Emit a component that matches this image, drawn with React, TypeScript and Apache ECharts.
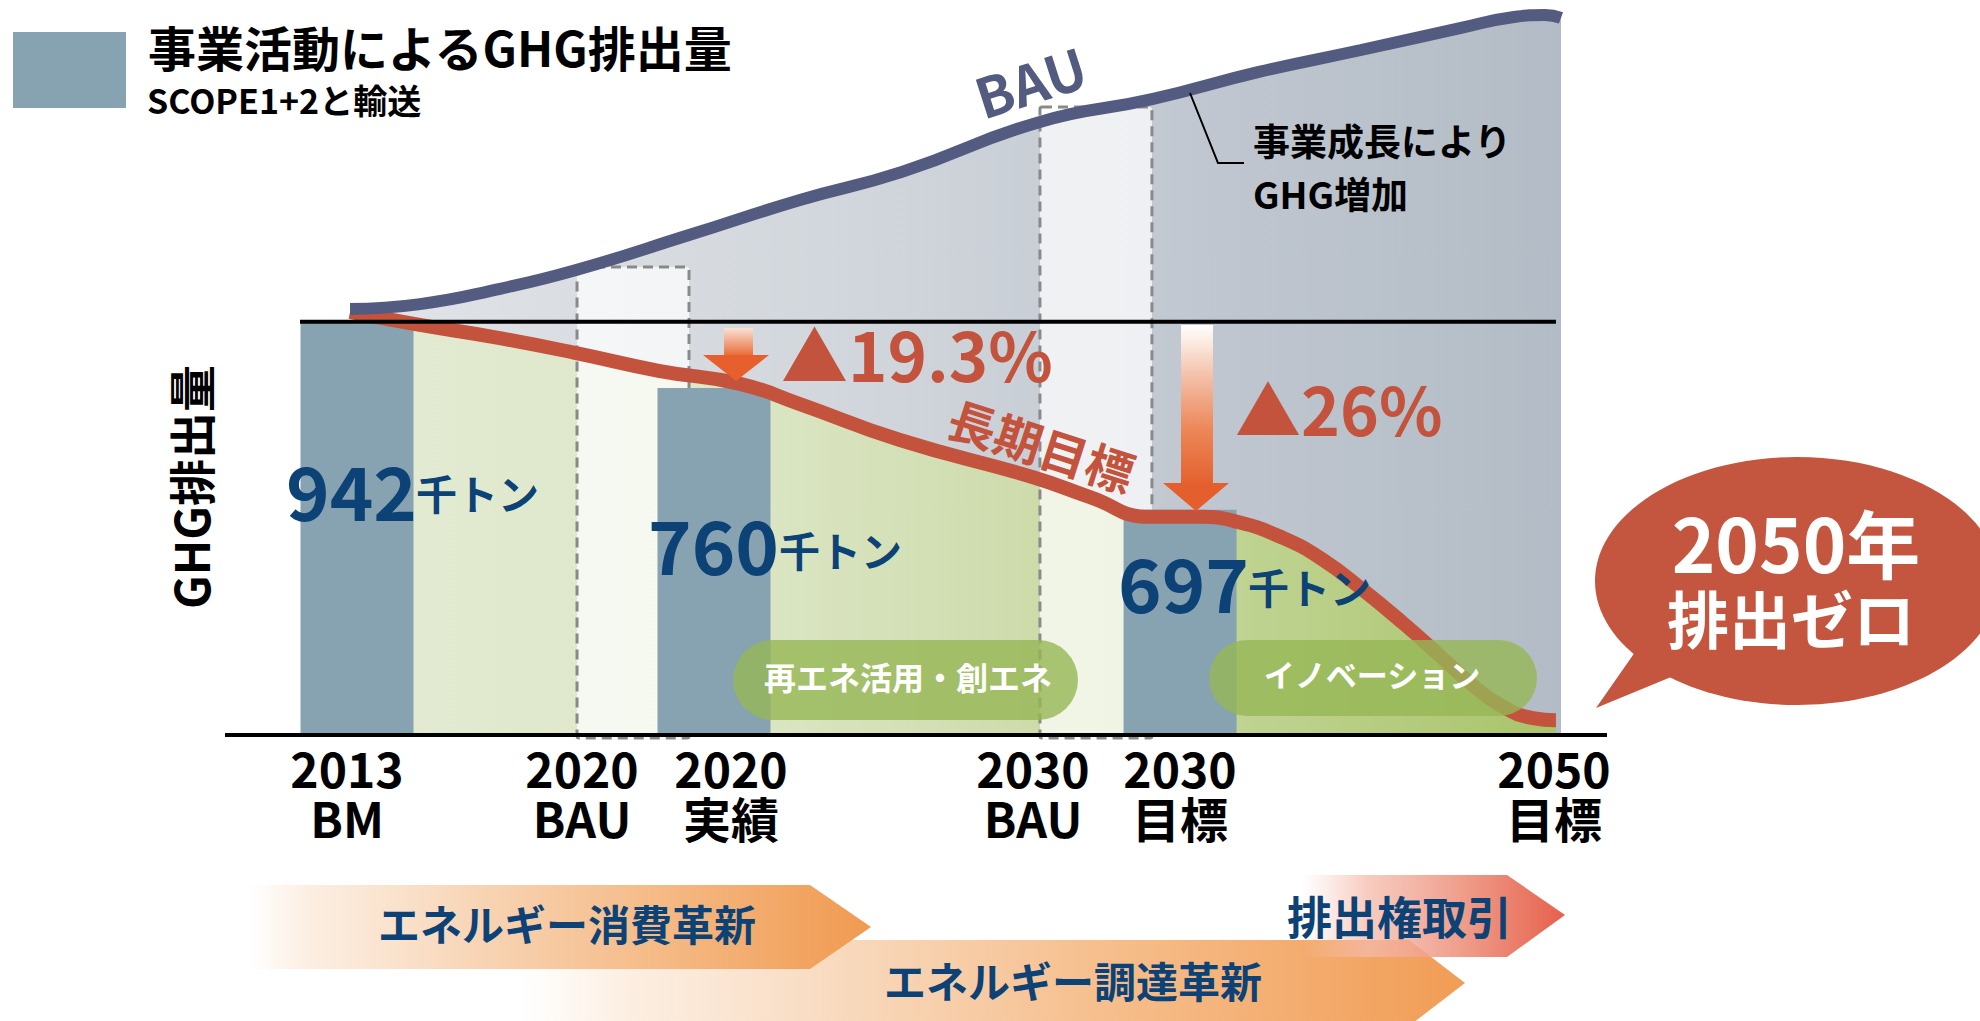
import React, { useEffect, useRef } from "react";
import * as echarts from "echarts";

// ---------------- data ----------------
// timeline position (0..100 across the plot) and emission index (2013 = 100)
const xLabels = ["2013\nBM", "2020\nBAU", "2020\n実績", "2030\nBAU", "2030\n目標", "2050\n目標"];

const bauX = [3.97, 9.52, 15.86, 21.97, 30.85, 39.65, 47.74, 58.68, 67.57, 76.05, 84.14, 91.99, 96.27, 98.73, 100];
const bauY = [103.1, 104.3, 108.0, 112.6, 121.0, 129.5, 136.3, 148.4, 153.9, 160.5, 165.8, 171.1, 173.8, 174.3, 173.6];

const targetX = [3.97, 9.04, 15.38, 21.81, 28.55, 34.89, 39.65, 47.58, 58.13, 62.65, 67.41, 71.37, 74.31, 77.95, 81.13, 84.3, 87.47, 90.17, 92.78, 95.4, 97.78, 99.6];
const targetY = [102.4, 99.5, 96.3, 92.5, 88.1, 85.0, 80.1, 71.4, 62.4, 57.6, 52.8, 52.8, 51.6, 47.7, 42.4, 35.1, 27.1, 19.8, 12.6, 6.8, 4.1, 3.6];

const barX = [4.52, 32.83, 69.79];
const barIdx = [100, 84.0, 54.5];
const barValues = ["942", "760", "697"];
const unitLabel = "千トン";

const bauBoxX = [26.41, 63.12];
const bauBoxIdx = [113.3, 152.0];

const baseLine = [[0, 100], [99.6, 100]];

const reductionLabels = ["▲19.3%", "▲26%"];
const pillLabels = ["再エネ活用・創エネ", "イノベーション"];
const bannerLabels = ["エネルギー消費革新", "エネルギー調達革新", "排出権取引"];

// ---------------- layout ----------------
const FONT = '"Noto Sans CJK JP", "Noto Sans", sans-serif';
const NAVY = "#0c4275";
const RED = "#c4533d";
const BAU_C = "#535b80";
const BAR_C = "#87a3b2";

const xLabelCx = [347, 582, 731, 1033, 1180, 1554];
const numPos = [
  [286, 488, 416, 492],
  [648, 542, 779, 549],
  [1118, 580, 1248, 586],
];

function T(text: string, x: number, y: number, size: number, fill: string, o: any = {}) {
  return {
    type: "text",
    x,
    y,
    z: o.z ?? 50,
    rotation: o.rot ?? 0,
    silent: true,
    style: {
      text,
      fill,
      fontSize: size,
      fontWeight: "bold",
      fontFamily: FONT,
      align: o.align ?? "left",
      verticalAlign: o.va ?? "middle",
      lineHeight: o.lh,
    },
  };
}

function lg(x2: number, y2: number, stops: [number, string][]) {
  return new echarts.graphic.LinearGradient(0, 0, x2, y2, stops.map(([offset, color]) => ({ offset, color })));
}

function buildOption() {
  const bauData = bauX.map((x, i) => [x, bauY[i]]);
  const targetData = targetX.map((x, i) => [x, targetY[i]]);

  const graphics: any[] = [];
  // legend
  graphics.push({ type: "rect", z: 50, shape: { x: 13, y: 32, width: 113, height: 76 }, style: { fill: BAR_C } });
  graphics.push(T("事業活動によるGHG排出量", 148, 46, 48, "#000"));
  graphics.push(T("SCOPE1+2と輸送", 147, 99, 34, "#000"));
  // y label
  graphics.push(T("GHG排出量", 189, 487, 47, "#000", { align: "center", rot: Math.PI / 2 }));
  // axis line
  graphics.push({ type: "line", z: 40, shape: { x1: 225, y1: 735, x2: 1607, y2: 735 }, style: { stroke: "#000", lineWidth: 4 } });
  // x labels
  xLabels.forEach((l, i) => graphics.push(T(l, xLabelCx[i], 792, 48, "#000", { align: "center", lh: 50 })));
  // numbers
  barValues.forEach((v, i) => {
    const p = numPos[i];
    graphics.push(T(v, p[0], p[1], 74, NAVY));
    graphics.push(T(unitLabel, p[2], p[3], 41, NAVY));
  });
  // small arrow (2020)
  graphics.push({ type: "rect", z: 45, shape: { x: 724, y: 328, width: 29, height: 29 }, style: { fill: lg(0, 1, [[0, "#fbe1d4"], [1, "#e8662f"]]) } });
  graphics.push({ type: "polygon", z: 45, shape: { points: [[703, 355], [769, 355], [736, 381]] }, style: { fill: "#e65f2c" } });
  // long arrow (2030)
  graphics.push({ type: "rect", z: 45, shape: { x: 1181, y: 325, width: 32, height: 160 }, style: { fill: lg(0, 1, [[0, "#ffffff"], [0.3, "#f4c4ae"], [0.65, "#ec8758"], [1, "#e4602e"]]) } });
  graphics.push({ type: "polygon", z: 45, shape: { points: [[1163, 483], [1229, 483], [1196, 511]] }, style: { fill: "#e45f2d" } });
  // reductions
  graphics.push(T(reductionLabels[0], 781, 352, 67, RED));
  graphics.push(T(reductionLabels[1], 1235, 407, 66, RED));
  // long-term target label
  graphics.push(T("長期目標", 1042, 444, 48, RED, { align: "center", rot: -0.31 }));
  // BAU label
  graphics.push(T("BAU", 1030, 80, 55, BAU_C, { align: "center", rot: 0.31 }));
  // callout
  graphics.push({ type: "polyline", z: 45, shape: { points: [[1190, 93], [1218, 163], [1244, 163]] }, style: { stroke: "#000", lineWidth: 2, fill: null } });
  graphics.push(T("事業成長により", 1253, 140, 37, "#000"));
  graphics.push(T("GHG増加", 1253, 193, 37, "#000"));
  // pills
  graphics.push({ type: "rect", z: 46, shape: { x: 733, y: 640, width: 345, height: 80, r: 40 }, style: { fill: "rgba(150,182,85,0.8)" } });
  graphics.push({ type: "rect", z: 46, shape: { x: 1209, y: 640, width: 328, height: 76, r: 38 }, style: { fill: "rgba(150,182,85,0.8)" } });
  graphics.push(T(pillLabels[0], 908, 676, 32, "#fff", { align: "center" }));
  graphics.push(T(pillLabels[1], 1372, 673, 31, "#fff", { align: "center" }));
  // bubble
  graphics.push({ type: "ellipse", z: 46, shape: { cx: 1797, cy: 581, rx: 202, ry: 124 }, style: { fill: "#c4553f" } });
  graphics.push({ type: "polygon", z: 46, shape: { points: [[1640, 645], [1596, 708], [1688, 670]] }, style: { fill: "#c4553f" } });
  graphics.push(T("2050年", 1796, 540, 74, "#fff", { align: "center" }));
  graphics.push(T("排出ゼロ", 1791, 617, 62, "#fff", { align: "center" }));
  // banners
  graphics.push({
    type: "polygon", z: 30,
    shape: { points: [[520, 940], [1409, 940], [1465, 983], [1409, 1026], [520, 1026]] },
    style: { fill: lg(1, 0, [[0, "rgba(250,228,208,0)"], [0.12, "rgba(250,226,204,0.6)"], [0.35, "#f8d8bc"], [0.6, "#f6c08f"], [1, "#f19d55"]]) },
  });
  graphics.push({
    type: "polygon", z: 31,
    shape: { points: [[248, 885], [810, 885], [871, 927], [810, 969], [248, 969]] },
    style: { fill: lg(1, 0, [[0, "rgba(250,228,208,0)"], [0.1, "rgba(250,226,204,0.6)"], [0.35, "#f8d6b8"], [0.65, "#f5bb87"], [1, "#f09a50"]]) },
  });
  graphics.push({
    type: "polygon", z: 32,
    shape: { points: [[1302, 875], [1507, 875], [1565, 915], [1507, 957], [1302, 957]] },
    style: { fill: lg(1, 0, [[0, "rgba(246,196,182,0)"], [0.25, "rgba(244,186,170,0.75)"], [0.6, "rgba(238,150,130,0.92)"], [1, "#e5604a"]]) },
  });
  graphics.push(T(bannerLabels[0], 378, 922, 42, NAVY, { z: 35 }));
  graphics.push(T(bannerLabels[1], 884, 979, 42, NAVY, { z: 35 }));
  graphics.push(T(bannerLabels[2], 1287, 915, 45, NAVY, { z: 35 }));

  const smooth = 0.5;
  return {
    animation: false,
    tooltip: { show: false },
    grid: { left: 300, top: 12, width: 1261, height: 723, outerBoundsMode: "none" },
    xAxis: { type: "value", min: 0, max: 100, show: false },
    yAxis: { type: "value", min: 0, max: 175, show: false },
    series: [
      {
        type: "line", data: bauData, smooth, symbol: "none", z: 1, silent: true, clip: false,
        lineStyle: { width: 0 },
        areaStyle: { opacity: 1, color: lg(1, 0, [[0, "#e1e4e8"], [0.45, "#d0d5db"], [0.72, "#bfc6cf"], [1, "#b3bcc6"]]) },
      },
      {
        type: "line", data: targetData, smooth, symbol: "none", z: 2, silent: true, clip: false,
        lineStyle: { width: 0 },
        areaStyle: { opacity: 1, color: lg(1, 0, [[0, "#e3ebd3"], [0.3, "#dde7c8"], [0.55, "#cfdcad"], [0.78, "#bcd18c"], [1, "#a9c46a"]]) },
      },
      {
        type: "custom", z: 3, silent: true,
        data: bauBoxX.map((x, i) => [x, bauBoxIdx[i]]),
        renderItem: (_p: any, api: any) => {
          const top = api.coord([api.value(0), api.value(1)]);
          const bot = api.coord([api.value(0), 0]);
          const w = 112;
          return {
            type: "rect",
            shape: { x: top[0] - w / 2, y: top[1], width: w, height: bot[1] - top[1] + 3, r: 2 },
            style: { fill: "rgba(255,255,255,0.72)", stroke: "#8a8a8a", lineWidth: 3, lineDash: [10, 6] },
          };
        },
      },
      {
        type: "bar", z: 4, silent: true, barWidth: 113,
        data: barX.map((x, i) => [x, barIdx[i]]),
        itemStyle: { color: BAR_C },
      },
      {
        type: "line", data: targetData, smooth, symbol: "none", z: 5, silent: true, clip: false,
        lineStyle: { width: 14, color: RED, cap: "butt" },
      },
      {
        type: "line", data: bauData, smooth, symbol: "none", z: 5, silent: true, clip: false,
        lineStyle: { width: 12, color: BAU_C, cap: "butt" },
      },
      {
        type: "line", data: baseLine, symbol: "none", z: 6, silent: true, clip: false,
        lineStyle: { width: 4, color: "#000" },
      },
    ],
    graphic: graphics,
  };
}

export default function App() {
  const ref = useRef<HTMLDivElement>(null);
  useEffect(() => {
    document.body.style.margin = "0";
    document.documentElement.style.margin = "0";
    if (!ref.current) return;
    const chart = echarts.init(ref.current, null, { renderer: "svg" });
    chart.setOption(buildOption() as any);
    return () => chart.dispose();
  }, []);
  return (
    <div
      ref={ref}
      style={{ position: "fixed", left: 0, top: 0, width: 1980, height: 1021, background: "#fff" }}
    />
  );
}
